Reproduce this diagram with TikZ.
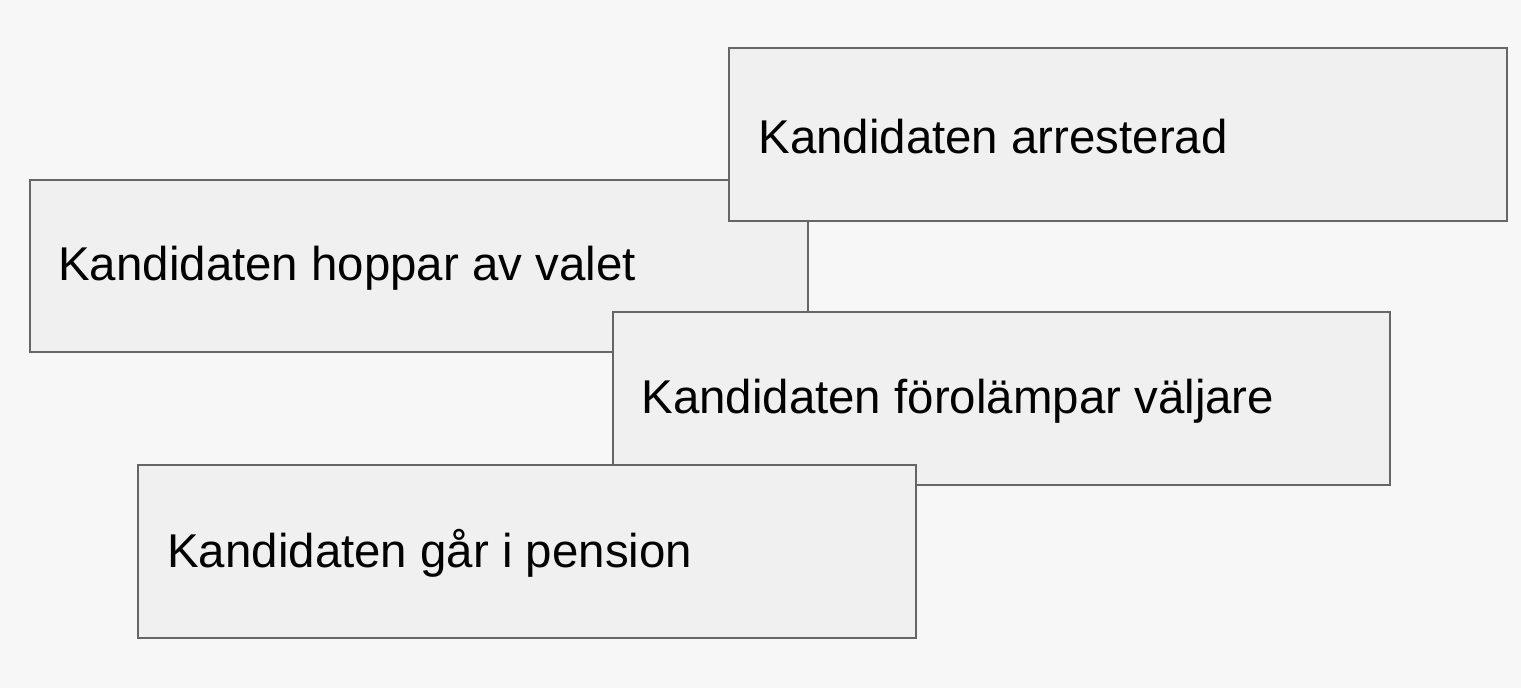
\documentclass[tikz,border=0pt]{standalone}
\usepackage{fontspec}
\setmainfont{Liberation Sans}
\begin{document}
\begin{tikzpicture}[x=0.02cm,y=-0.02cm,
  box/.style={draw=black!60,line width=1.2pt,fill=black!6},
  lbl/.style={anchor=west,font=\fontsize{27}{32}\selectfont,inner sep=0pt}]
\fill[white!97!black] (0,0) rectangle (1521,688);
\useasboundingbox (0,0) rectangle (1521,688);
\draw[box] (30,180) rectangle (808,352);
\node[lbl] (b) at (58,268) {Kandidaten hoppar av valet};
\draw[box] (729,48) rectangle (1507,221);
\node[lbl] (a) at (758,137) {Kandidaten arresterad};
\draw[box] (613,312) rectangle (1390,485);
\node[lbl] (c) at (641,401) {Kandidaten förolämpar väljare};
\draw[box] (138,465) rectangle (916,638);
\node[lbl] (d) at (167,553) {Kandidaten går i pension};
\end{tikzpicture}
\end{document}
